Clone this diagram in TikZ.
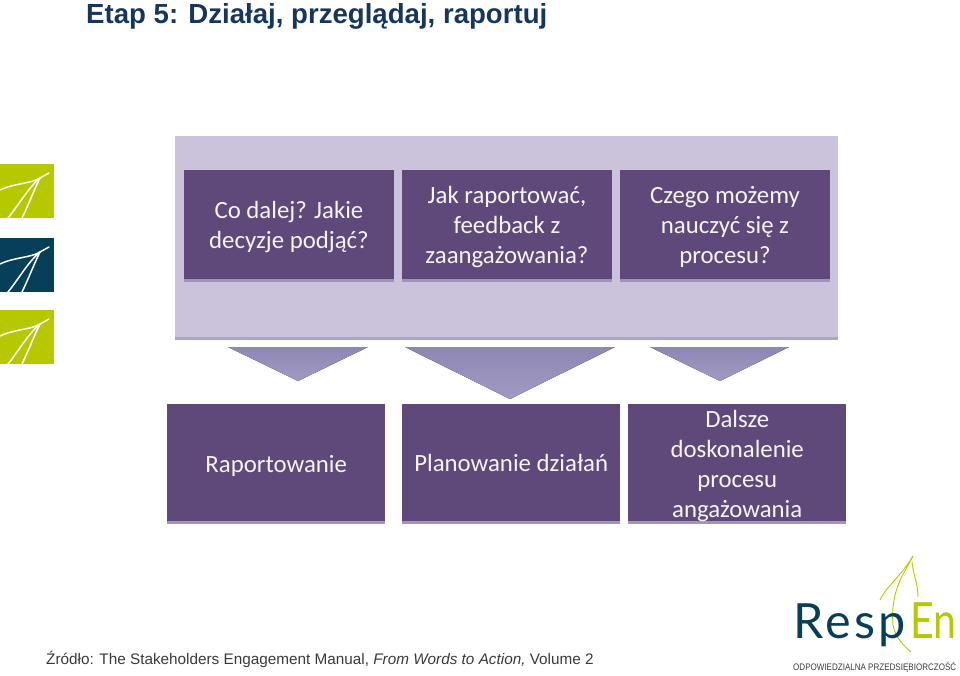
\documentclass[tikz,border=0pt]{standalone}
\usepackage{fontspec}
\usepackage{graphicx}
\setmainfont{Carlito}
\newfontfamily\arialf{Liberation Sans}
\newfontfamily\logof[LetterSpace=7]{Lato}
\newfontfamily\logofb{Lato}
\usetikzlibrary{shadings}
\definecolor{boxc}{HTML}{5F497A}
\definecolor{boxs}{HTML}{A194B4}
\definecolor{panelc}{HTML}{CBC2DC}
\definecolor{panels}{HTML}{ACA5BC}
\definecolor{trit}{HTML}{8E86B4}
\definecolor{trib}{HTML}{A19BC2}
\definecolor{titlec}{HTML}{17365D}
\definecolor{lime}{HTML}{B5C800}
\definecolor{navy}{HTML}{073E58}
\definecolor{foot}{HTML}{3A3A3A}
\tikzset{
  purplebox/.style={fill=boxc,inner sep=0pt,anchor=north west},
  boxlabel/.style={text=white!94!boxc,inner sep=0pt,align=center,font=\fontsize{24.8}{30}\selectfont,yshift=-3pt},
  topbox/.style={purplebox,minimum width=209.5pt,minimum height=109pt},
  lowbox/.style={purplebox,minimum width=218pt,minimum height=117pt},
  leafsq/.style={inner sep=0pt,minimum width=53.5pt,minimum height=54pt,anchor=north west},
  vein/.style={draw=white,line width=1.5pt,line cap=round},
  logovein/.style={draw=lime,line width=0.9pt},
  tri/.style={top color=trit,bottom color=trib,draw=none},
}
\newcommand{\leafmark}[3]{%
  \node[leafsq,fill=#2] (#1) at (0,#3) {};
  \begin{scope}[shift={(0,#3)}]
    \draw[vein] (49,9) -- (40,14) .. controls (30,20) and (15,19) .. (0,26);
    \draw[vein] (40,14) .. controls (28,24) and (18,42) .. (8,54);
    \draw[vein] (40,14) .. controls (34,26) and (28,42) .. (22,54);
  \end{scope}}
\begin{document}
\begin{tikzpicture}[x=1pt,y=-1pt]
\useasboundingbox (0,0) rectangle (960,676);
\node[anchor=base west,font=\arialf\bfseries\fontsize{27.6}{30}\selectfont,text=titlec,inner sep=0pt] (title) at (86,24) {Etap 5: Działaj, przeglądaj, raportuj};
\leafmark{leafa}{lime}{164}
\leafmark{leafb}{navy}{238}
\leafmark{leafc}{lime}{310}
% panel
\fill[panels] (175,138) rectangle (838,340);
\node[fill=panelc,inner sep=0pt,minimum width=663pt,minimum height=201pt,anchor=north west] (panel) at (175,136) {};
% top boxes
\foreach \x in {184,402,620}{\fill[boxs] (\x,172) rectangle ++(209.5,109.5);}
\node[topbox] (ta) at (184,170) {};
\node[topbox] (tb) at (402,170) {};
\node[topbox] (tc) at (620,170) {};
\node[boxlabel,yshift=1pt] (tal) at (ta.center) {Co dalej? Jakie\\decyzje podjąć?};
\node[boxlabel,yshift=1pt] (tbl) at (tb.center) {Jak raportować,\\feedback z\\zaangażowania?};
\node[boxlabel,yshift=1pt] (tcl) at (tc.center) {Czego możemy\\nauczyć się z\\procesu?};
% triangles
\fill[tri] (228,347) -- (368,347) -- (298,381) -- cycle;
\fill[tri] (405,347) -- (615,347) -- (510,399) -- cycle;
\fill[tri] (650,347) -- (789,347) -- (720,381) -- cycle;
% bottom boxes
\foreach \x in {167,402,628}{\fill[boxs] (\x,406) rectangle ++(218,118);}
\node[lowbox] (ba) at (167,404) {};
\node[lowbox] (bb) at (402,404) {};
\node[lowbox] (bc) at (628,404) {};
\node[boxlabel] (bal) at (ba.center) {Raportowanie};
\node[boxlabel,yshift=3pt] (bbl) at (bb.center) {Planowanie działań};
\node[boxlabel] (bcl) at (bc.center) {Dalsze\\doskonalenie\\procesu\\angażowania};
% footer
\node[anchor=base west,font=\arialf\fontsize{15.3}{18}\selectfont,text=foot,inner sep=0pt] (src) at (46,664) {Źródło: The Stakeholders Engagement Manual, \textit{From Words to Action,} Volume 2};
% logo
\draw[logovein] (913,556) .. controls (902,575) and (885,588) .. (880,600);
\draw[logovein] (913,556) .. controls (905,572) and (890,590) .. (893,625) .. controls (895,637) and (904,646) .. (911,652);
\draw[logovein] (912,562) .. controls (913,574) and (918,584) .. (918,597);
\node[anchor=base west,inner sep=0pt,font=\logof\fontsize{48.5}{50}\selectfont,text=navy] (resp) at (793,638) {Resp};
\node[anchor=base west,inner sep=0pt,font=\logofb\fontsize{50}{50}\selectfont,text=lime] (en) at (910,638) {\scalebox{0.82}[1]{En}};
\node[anchor=base west,inner sep=0pt,font=\arialf,text=foot] (tag) at (793,670) {\resizebox{163pt}{8.5pt}{ODPOWIEDZIALNA PRZEDSIĘBIORCZOŚĆ}};
\end{tikzpicture}
\end{document}
